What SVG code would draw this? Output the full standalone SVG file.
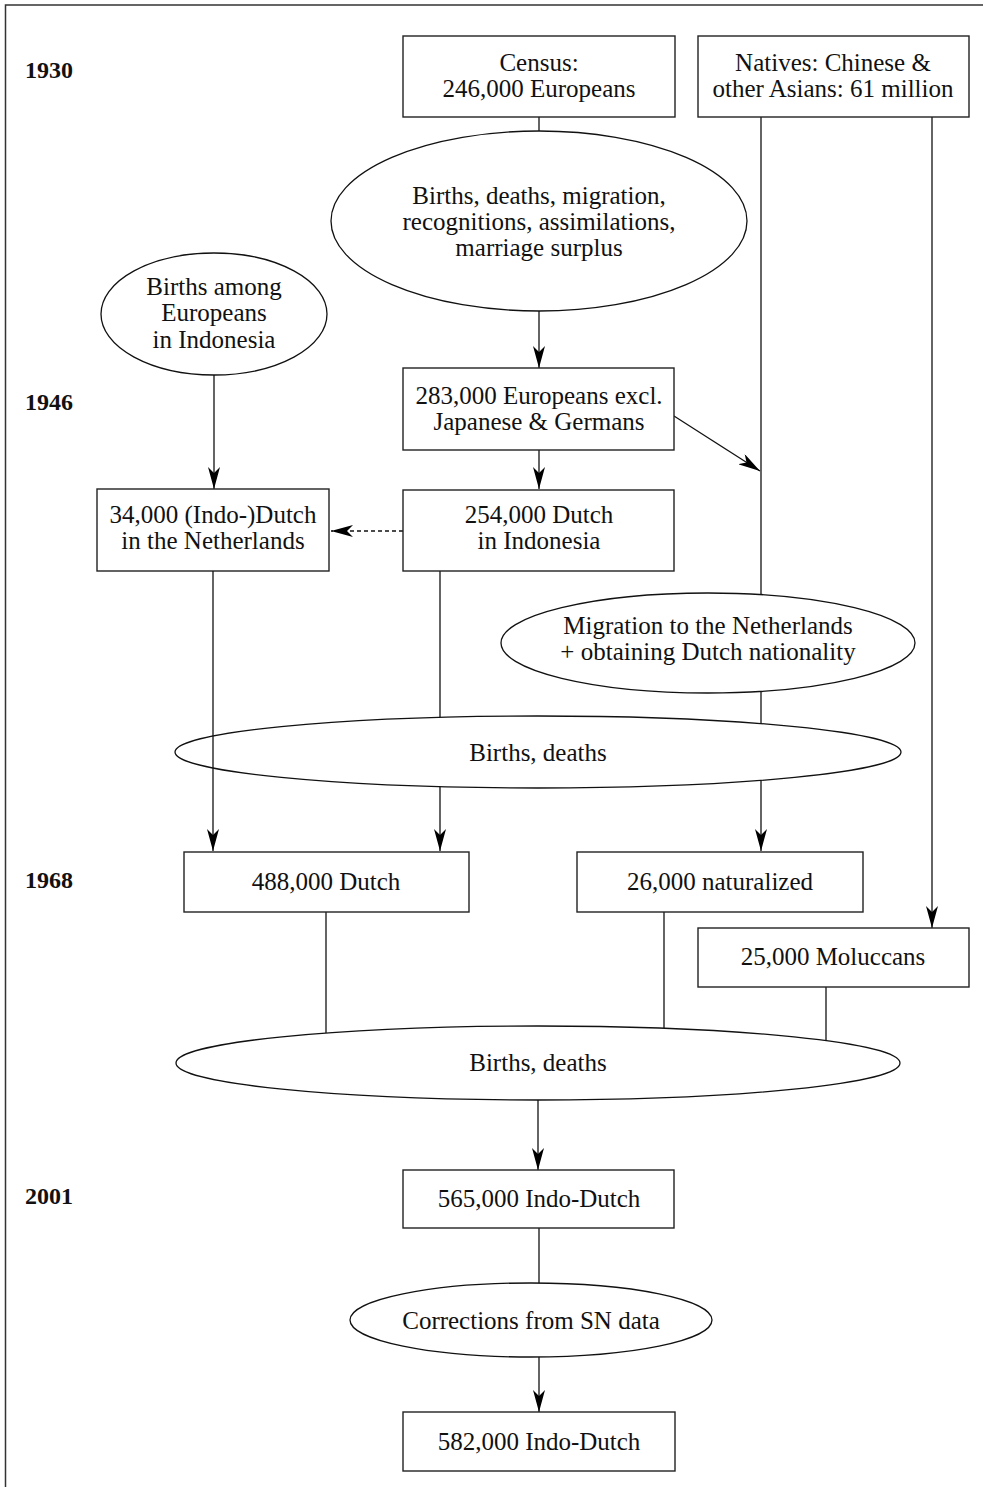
<svg xmlns="http://www.w3.org/2000/svg" width="983" height="1487" viewBox="0 0 983 1487">
<style>
.box{fill:#fff;stroke:#222;stroke-width:1.4}
.ell{fill:#fff;stroke:#111;stroke-width:1.3}
.t{font-family:"Liberation Serif",serif;font-size:25px;fill:#111;text-anchor:middle}
.yr{font-family:"Liberation Serif",serif;font-size:24px;font-weight:bold;fill:#111}
.c{stroke:#111;stroke-width:1.3;fill:none}
.dash{stroke-dasharray:4 3}
</style>
<defs>
<marker id="ah" markerUnits="userSpaceOnUse" markerWidth="22" markerHeight="12" refX="22" refY="6" orient="auto" viewBox="0 0 22 12">
<path d="M0,0 L22,6 L0,12 L6,6 z" fill="#000"/>
</marker>
</defs>
<rect width="983" height="1487" fill="#fff"/>
<path d="M5.5,1487 V5 H983" fill="none" stroke="#333" stroke-width="1.5"/>
<g id="years">
<text class="yr" x="25" y="78">1930</text>
<text class="yr" x="25" y="410">1946</text>
<text class="yr" x="25" y="888">1968</text>
<text class="yr" x="25" y="1204">2001</text>
</g>
<g id="connectors">
<line class="c" x1="539" y1="117" x2="539" y2="131"/>
<line class="c" x1="539" y1="311" x2="539" y2="368" marker-end="url(#ah)"/>
<line class="c" x1="214" y1="375" x2="214" y2="489" marker-end="url(#ah)"/>
<line class="c" x1="539" y1="450" x2="539" y2="489" marker-end="url(#ah)"/>
<line class="c dash" x1="403" y1="531" x2="331" y2="531" marker-end="url(#ah)"/>
<line class="c" x1="674" y1="416" x2="760" y2="471" marker-end="url(#ah)"/>
<line class="c" x1="761" y1="117" x2="761" y2="594"/>
<line class="c" x1="761" y1="692" x2="761" y2="724"/>
<line class="c" x1="761" y1="780" x2="761" y2="851" marker-end="url(#ah)"/>
<line class="c" x1="932" y1="117" x2="932" y2="928" marker-end="url(#ah)"/>
<line class="c" x1="440" y1="571" x2="440" y2="717"/>
<line class="c" x1="440" y1="787" x2="440" y2="851" marker-end="url(#ah)"/>
<line class="c" x1="326" y1="912" x2="326" y2="1033"/>
<line class="c" x1="664" y1="912" x2="664" y2="1028"/>
<line class="c" x1="826" y1="987" x2="826" y2="1041"/>
<line class="c" x1="538" y1="1100" x2="538" y2="1170" marker-end="url(#ah)"/>
<line class="c" x1="539" y1="1228" x2="539" y2="1283"/>
<line class="c" x1="539" y1="1357" x2="539" y2="1412" marker-end="url(#ah)"/>
</g>
<g id="census">
<rect class="box" x="403" y="36" width="272" height="81"/>
<text class="t" x="539" y="71">Census:</text>
<text class="t" x="539" y="97">246,000 Europeans</text>
</g>
<g id="natives">
<rect class="box" x="698" y="36" width="271" height="81"/>
<text class="t" x="833" y="71">Natives: Chinese &amp;</text>
<text class="t" x="833" y="97">other Asians: 61 million</text>
</g>
<g id="births-migration">
<ellipse class="ell" cx="539" cy="221" rx="208" ry="90"/>
<text class="t" x="539" y="204">Births, deaths, migration,</text>
<text class="t" x="539" y="230">recognitions, assimilations,</text>
<text class="t" x="539" y="256">marriage surplus</text>
</g>
<g id="births-among">
<ellipse class="ell" cx="214" cy="314" rx="113" ry="61"/>
<text class="t" x="214" y="295">Births among</text>
<text class="t" x="214" y="321">Europeans</text>
<text class="t" x="214" y="348">in Indonesia</text>
</g>
<g id="e283">
<rect class="box" x="403" y="368" width="271" height="82"/>
<text class="t" x="539" y="404">283,000 Europeans excl.</text>
<text class="t" x="539" y="430">Japanese &amp; Germans</text>
</g>
<g id="d254">
<rect class="box" x="403" y="490" width="271" height="81"/>
<text class="t" x="539" y="523">254,000 Dutch</text>
<text class="t" x="539" y="549">in Indonesia</text>
</g>
<g id="d34">
<rect class="box" x="97" y="489" width="232" height="82"/>
<text class="t" x="213" y="523">34,000 (Indo-)Dutch</text>
<text class="t" x="213" y="549">in the Netherlands</text>
</g>
<g id="migration">
<ellipse class="ell" cx="708" cy="643" rx="207" ry="50"/>
<text class="t" x="708" y="634">Migration to the Netherlands</text>
<text class="t" x="708" y="660">+ obtaining Dutch nationality</text>
</g>
<g id="births-deaths-1">
<ellipse class="ell" cx="538" cy="752" rx="363" ry="36"/>
<text class="t" x="538" y="761">Births, deaths</text>
</g>
<line class="c" x1="213" y1="571" x2="213" y2="851" marker-end="url(#ah)"/>
<g id="d488">
<rect class="box" x="184" y="852" width="285" height="60"/>
<text class="t" x="326" y="890">488,000 Dutch</text>
</g>
<g id="nat26">
<rect class="box" x="577" y="852" width="286" height="60"/>
<text class="t" x="720" y="890">26,000 naturalized</text>
</g>
<g id="mol25">
<rect class="box" x="698" y="928" width="271" height="59"/>
<text class="t" x="833" y="965">25,000 Moluccans</text>
</g>
<g id="births-deaths-2">
<ellipse class="ell" cx="538" cy="1063" rx="362" ry="37"/>
<text class="t" x="538" y="1071">Births, deaths</text>
</g>
<g id="i565">
<rect class="box" x="403" y="1170" width="271" height="58"/>
<text class="t" x="539" y="1207">565,000 Indo-Dutch</text>
</g>
<g id="corrections">
<ellipse class="ell" cx="531" cy="1320" rx="181" ry="37"/>
<text class="t" x="531" y="1329">Corrections from SN data</text>
</g>
<g id="i582">
<rect class="box" x="403" y="1412" width="272" height="59"/>
<text class="t" x="539" y="1450">582,000 Indo-Dutch</text>
</g>
</svg>
